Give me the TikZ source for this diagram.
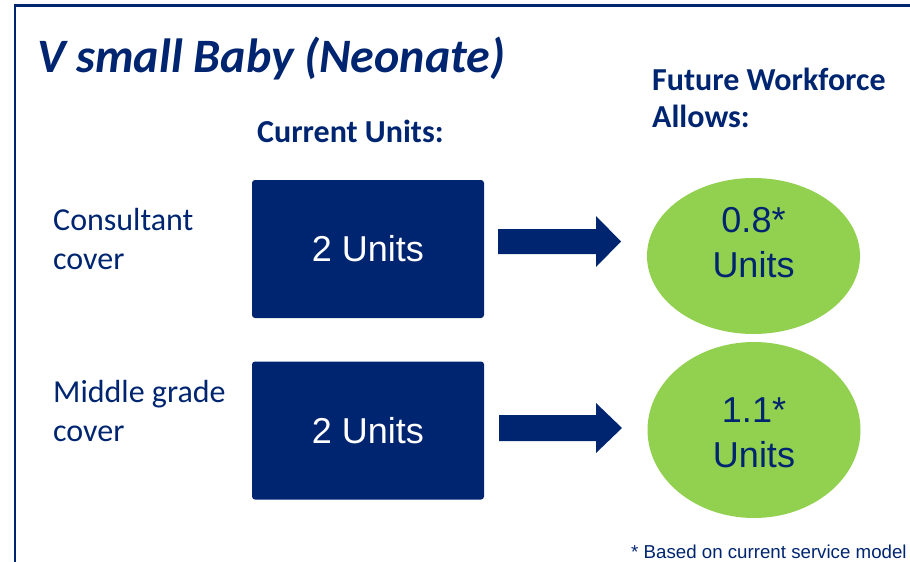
\documentclass[tikz,border=0pt]{standalone}
\usepackage{fontspec}
\setmainfont{Carlito}
\newfontfamily\arialfont{Liberation Sans}
\usetikzlibrary{shapes.geometric}
\definecolor{navy}{RGB}{0,37,112}
\definecolor{leaf}{RGB}{146,208,80}
\tikzset{
  unitbox/.style={fill=navy, draw=none, rounded corners=3pt, minimum width=232pt, minimum height=138pt,
    text=white, font=\arialfont\fontsize{36}{40}\selectfont, inner sep=0pt},
  futurebubble/.style={ellipse, fill=leaf, draw=none, inner sep=0pt},
  % multi-line nodes: the base anchor sits on the last line
  bubbletext/.style={anchor=base, align=center, text=navy, inner sep=0pt,
    font=\arialfont\fontsize{36}{45}\selectfont},
  heading/.style={anchor=base west, align=left, text=navy, inner sep=0pt,
    font=\bfseries\fontsize{32}{37}\selectfont},
  rowlabel/.style={anchor=base west, align=left, text=navy, inner sep=0pt,
    font=\fontsize{32}{38.5}\selectfont},
  blockarrow/.style={fill=navy, draw=none},
  frameline/.style={draw=navy, line width=2.5pt}
}
\begin{document}
\begin{tikzpicture}[x=1pt, y=-1pt]
\useasboundingbox (0,0) rectangle (910,562);

% frame edges
\coordinate (ftl) at (14.8,5.5);
\coordinate (ftr) at (910,5.5);
\coordinate (fbl) at (14.8,562);
\draw[frameline] (ftr) -- (ftl) -- (fbl);

% title and column headings
\node[anchor=base west, text=navy, inner sep=0pt, font=\bfseries\itshape\fontsize{48}{54}\selectfont]
  (title) at (37,72) {V small Baby (Neonate)};
\node[heading] (current) at (257,142) {Current Units:};
\node[heading] (future) at (652,127) {Future Workforce\\Allows:};

% row labels
\node[rowlabel] (cons) at (53,269) {Consultant\\cover};
\node[rowlabel] (mid) at (53,441) {Middle grade\\cover};

% current units
\node[unitbox] (box1) at (368,249) {2 Units};
\node[unitbox] (box2) at (368,430.5) {2 Units};

% future allowances
\node[futurebubble, minimum width=213pt, minimum height=156pt] (ell1) at (753.5,256) {};
\node[futurebubble, minimum width=213pt, minimum height=176pt] (ell2) at (754,430) {};
\node[bubbletext] (val1) at (753.5,277) {0.8*\\Units};
\node[bubbletext] (val2) at (754,467) {1.1*\\Units};

% block arrows between the columns
\fill[blockarrow] (498,229) -- (596,229) -- (596,216) -- (621,241.5) -- (596,267) -- (596,254) -- (498,254) -- cycle;
\fill[blockarrow] (499,415) -- (596,415) -- (596,403) -- (622,428) -- (596,453) -- (596,441) -- (499,441) -- cycle;

% footnote
\node[anchor=base west, text=navy, inner sep=0pt, font=\arialfont\fontsize{18.7}{22}\selectfont]
  (note) at (631,558) {* Based on current service model};
\end{tikzpicture}
\end{document}
